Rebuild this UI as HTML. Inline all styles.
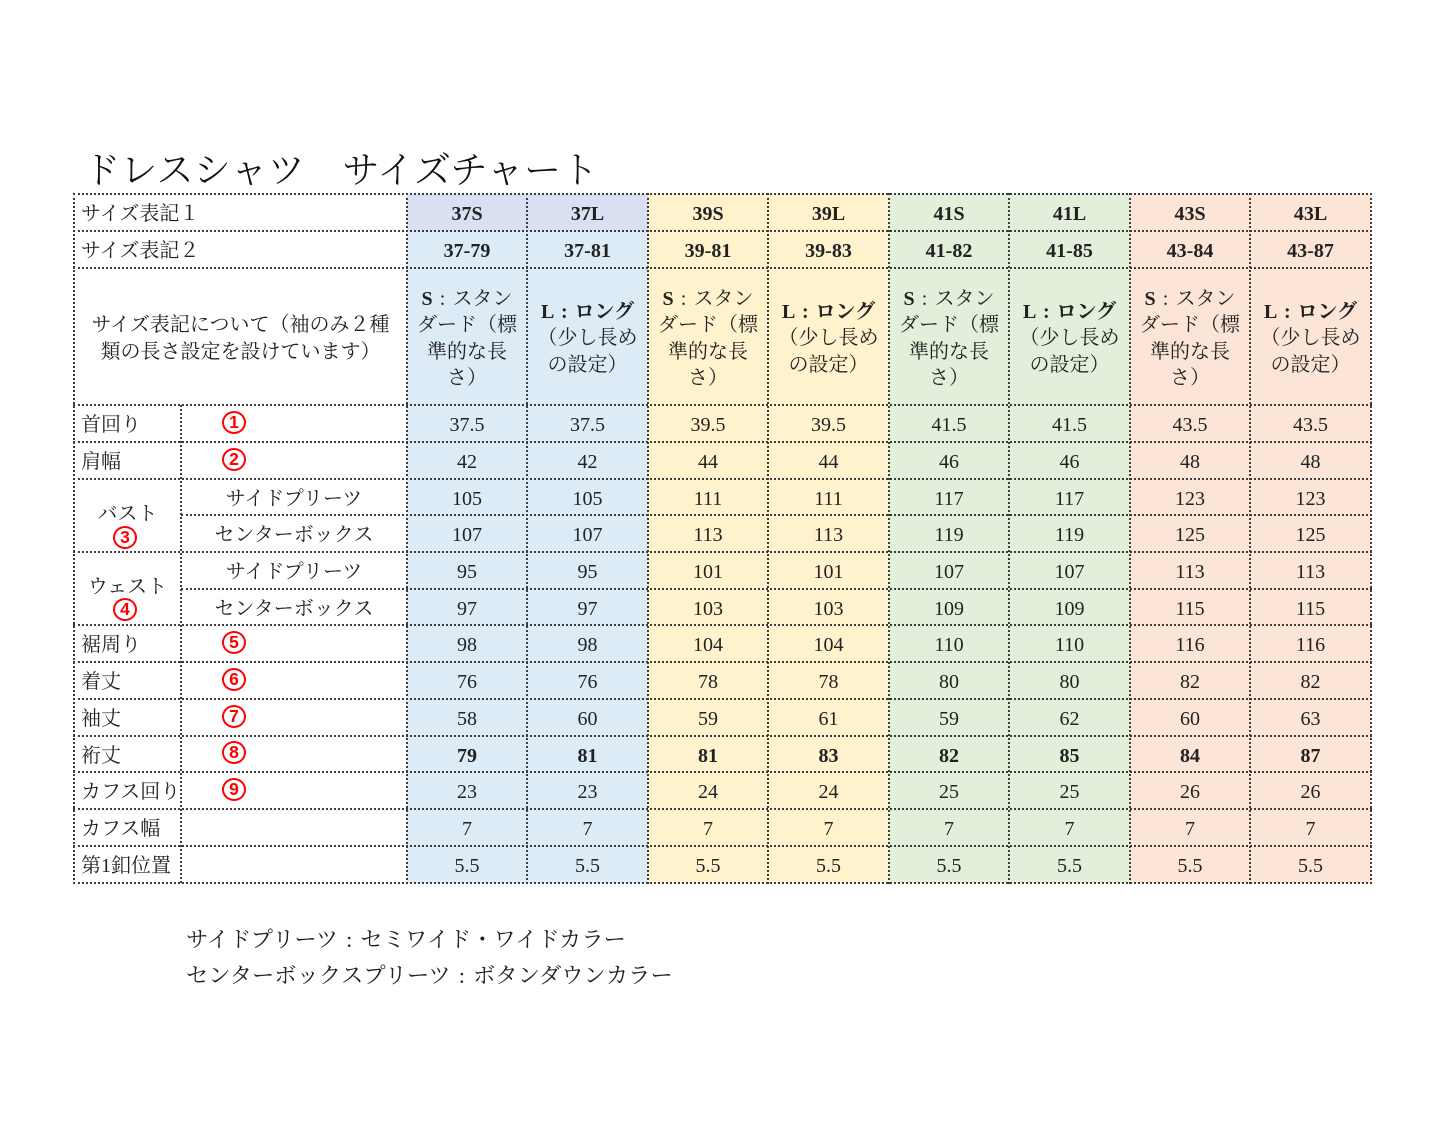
<!DOCTYPE html>
<html><head><meta charset="utf-8">
<style>
*{margin:0;padding:0;box-sizing:border-box}
html,body{width:1445px;height:1124px;background:#fff;overflow:hidden}
body{position:relative;font-family:"Liberation Serif","Noto Serif CJK SC",serif;color:#222}
.c{position:absolute;display:flex;align-items:center;justify-content:center;text-align:center;font-size:20px;line-height:26.5px;white-space:nowrap;padding-top:4px}
.l{justify-content:flex-start;padding-left:7px}
.b{font-weight:bold}
.h{position:absolute;height:0;border-top:2px dotted #3c3c3c}
.v{position:absolute;width:0;border-left:2px dotted #3c3c3c}
.r{position:absolute;width:24px;height:23px;border:2.6px solid #f00;border-radius:50%;color:#f00;font-family:"Liberation Sans",sans-serif;font-weight:bold;font-size:17.5px;line-height:18px;text-align:center}
.title{position:absolute;left:83px;top:150px;font-size:37.3px;line-height:44px;font-weight:300;color:#111;white-space:nowrap}
.foot{position:absolute;left:186px;font-size:22.3px;line-height:28px;white-space:nowrap;color:#222}
.col{display:inline-block;width:22.3px;text-align:center}
.cc{display:inline-block;width:20px;text-align:center}
</style></head><body>
<div class="title">ドレスシャツ　サイズチャート</div>

<!-- column backgrounds -->
<div style="position:absolute;left:407px;top:194px;width:241px;height:37px;background:#d9e0f2"></div>
<div style="position:absolute;left:407px;top:231px;width:241px;height:652px;background:#ddebf7"></div>
<div style="position:absolute;left:648px;top:194px;width:241px;height:689px;background:#fff2cc"></div>
<div style="position:absolute;left:889px;top:194px;width:241px;height:689px;background:#e2efda"></div>
<div style="position:absolute;left:1130px;top:194px;width:241px;height:689px;background:#fce4d6"></div>

<div id="cells"></div>

<!-- left labels -->
<div class="c l" style="left:74px;top:194px;width:333px;height:37px">サイズ表記１</div>
<div class="c l" style="left:74px;top:231px;width:333px;height:37px">サイズ表記２</div>
<div class="c" style="left:74px;top:268px;width:333px;height:137px"><div>サイズ表記について（袖のみ２種<br>類の長さ設定を設けています）</div></div>

<div class="c l" style="left:74px;top:405px;width:107px;height:37px">首回り</div>
<div class="c l" style="left:74px;top:442px;width:107px;height:37px">肩幅</div>
<div class="c" style="left:74px;top:499px;width:107px;height:26px">バスト</div>
<div class="c" style="left:74px;top:572px;width:107px;height:26px">ウェスト</div>
<div class="c" style="left:181px;top:479px;width:226px;height:36px">サイドプリーツ</div>
<div class="c" style="left:181px;top:515px;width:226px;height:37px">センターボックス</div>
<div class="c" style="left:181px;top:552px;width:226px;height:37px">サイドプリーツ</div>
<div class="c" style="left:181px;top:589px;width:226px;height:36px">センターボックス</div>
<div class="c l" style="left:74px;top:625px;width:107px;height:37px">裾周り</div>
<div class="c l" style="left:74px;top:662px;width:107px;height:37px">着丈</div>
<div class="c l" style="left:74px;top:699px;width:107px;height:37px">袖丈</div>
<div class="c l" style="left:74px;top:736px;width:107px;height:36px">裄丈</div>
<div class="c l" style="left:74px;top:772px;width:150px;height:37px">カフス回り</div>
<div class="c l" style="left:74px;top:809px;width:107px;height:37px">カフス幅</div>
<div class="c l" style="left:74px;top:846px;width:107px;height:37px">第1釦位置</div>

<!-- red circled numbers -->
<div class="r" style="left:222px;top:411px">1</div>
<div class="r" style="left:222px;top:448px">2</div>
<div class="r" style="left:113px;top:526px">3</div>
<div class="r" style="left:113px;top:598px">4</div>
<div class="r" style="left:222px;top:631px">5</div>
<div class="r" style="left:222px;top:668px">6</div>
<div class="r" style="left:222px;top:705px">7</div>
<div class="r" style="left:222px;top:741px">8</div>
<div class="r" style="left:222px;top:778px">9</div>

<script>
var xs=[407,527,648,768,889,1009,1130,1250,1371];
var rows=[
 [194,231,["37S","37L","39S","39L","41S","41L","43S","43L"],1],
 [231,268,["37-79","37-81","39-81","39-83","41-82","41-85","43-84","43-87"],1],
 [405,442,["37.5","37.5","39.5","39.5","41.5","41.5","43.5","43.5"],0],
 [442,479,["42","42","44","44","46","46","48","48"],0],
 [479,515,["105","105","111","111","117","117","123","123"],0],
 [515,552,["107","107","113","113","119","119","125","125"],0],
 [552,589,["95","95","101","101","107","107","113","113"],0],
 [589,625,["97","97","103","103","109","109","115","115"],0],
 [625,662,["98","98","104","104","110","110","116","116"],0],
 [662,699,["76","76","78","78","80","80","82","82"],0],
 [699,736,["58","60","59","61","59","62","60","63"],0],
 [736,772,["79","81","81","83","82","85","84","87"],1],
 [772,809,["23","23","24","24","25","25","26","26"],0],
 [809,846,["7","7","7","7","7","7","7","7"],0],
 [846,883,["5.5","5.5","5.5","5.5","5.5","5.5","5.5","5.5"],0]
];
var h="";
rows.forEach(function(r){
 for(var i=0;i<8;i++){
  h+='<div class="c'+(r[3]?' b':'')+'" style="left:'+xs[i]+'px;top:'+r[0]+'px;width:'+(xs[i+1]-xs[i])+'px;height:'+(r[1]-r[0])+'px">'+r[2][i]+'</div>';
 }
});
var sTxt='<div><span class="b">S</span><span class="cc">:</span>スタン<br>ダード（標<br>準的な長<br>さ）</div>';
var lTxt='<div><span class="b">L<span class="cc">:</span>ロング</span><br>（少し長め<br>の設定）</div>';
for(var i=0;i<8;i++){
 h+='<div class="c" style="left:'+xs[i]+'px;top:268px;width:'+(xs[i+1]-xs[i])+'px;height:137px">'+(i%2==0?sTxt:lTxt)+'</div>';
}
var hy=[194,231,268,405,442,479,552,625,662,699,736,772,809,846,883];
hy.forEach(function(y){h+='<div class="h" style="left:73px;top:'+(y-1)+'px;width:1299px"></div>';});
[515,589].forEach(function(y){h+='<div class="h" style="left:181px;top:'+(y-1)+'px;width:1191px"></div>';});
[74,407,527,648,768,889,1009,1130,1250,1371].forEach(function(x){h+='<div class="v" style="left:'+(x-1)+'px;top:193px;height:691px"></div>';});
h+='<div class="v" style="left:180px;top:405px;height:478px"></div>';
document.getElementById("cells").innerHTML=h;
</script>

<div class="foot" style="top:926px">サイドプリーツ<span class="col">:</span>セミワイド・ワイドカラー</div>
<div class="foot" style="top:962px">センターボックスプリーツ<span class="col">:</span>ボタンダウンカラー</div>
</body></html>
